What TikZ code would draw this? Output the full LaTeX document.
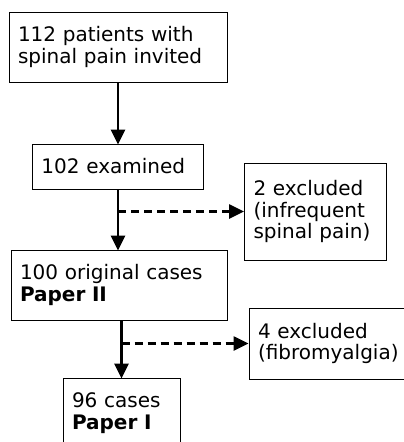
\documentclass[tikz,border=0pt]{standalone}
\usepackage{fontspec}
\setmainfont{DejaVu Sans}
\usetikzlibrary{arrows.meta,positioning}
\tikzset{
  caja/.style={
    draw=black,
    line width=1pt,
    align=left,
    inner xsep=9pt,
    inner ysep=0pt,
    font=\fontsize{20}{21.5}\selectfont
  },
  flecha/.style={
    -{Triangle[length=15pt,width=14pt]},
    line width=2.7pt,
    shorten >=-1pt
  },
  excluye/.style={
    -{Triangle[length=15pt,width=14pt]},
    line width=2.6pt,
    dash pattern=on 8pt off 5pt
  }
}

\begin{document}
\begin{tikzpicture}[x=1pt,y=1pt]
\clip (0,0) rectangle (404,-442);
\node[caja,text width=200pt,minimum height=70pt] (invitados) at (118,-47) {112 patients with\\spinal pain invited};
\node[caja,text width=153pt,minimum height=45pt,below=61pt of invitados] (examinados) {102 examined};
\node[caja,text width=124pt,minimum height=97pt,right=40pt of examinados,yshift=-45pt] (excl1) {2 excluded\\(infrequent\\spinal pain)};
\node[caja,text width=198pt,minimum height=70pt,below=60pt of examinados,xshift=1pt] (originales) {100 original cases\\\textbf{Paper II}};
\node[caja,text width=137pt,minimum height=71pt,right=21pt of originales,yshift=-58.5pt] (excl2) {4 excluded\\(fibromyalgia)};
\node[caja,text width=99pt,minimum height=70pt,below=57pt of originales,xshift=2.5pt] (casos) {96 cases\\\textbf{Paper I}};
\draw[flecha] (invitados.south) -- (invitados.south |- examinados.north);
\draw[flecha] (examinados.south) -- (examinados.south |- originales.north);
\draw[excluye] (excl1.west -| examinados.south) -- (excl1.west);
\draw[flecha] (originales.south -| casos.north) -- (casos.north);
\draw[excluye] (excl2.west -| casos.north) -- (excl2.west);
\end{tikzpicture}
\end{document}
